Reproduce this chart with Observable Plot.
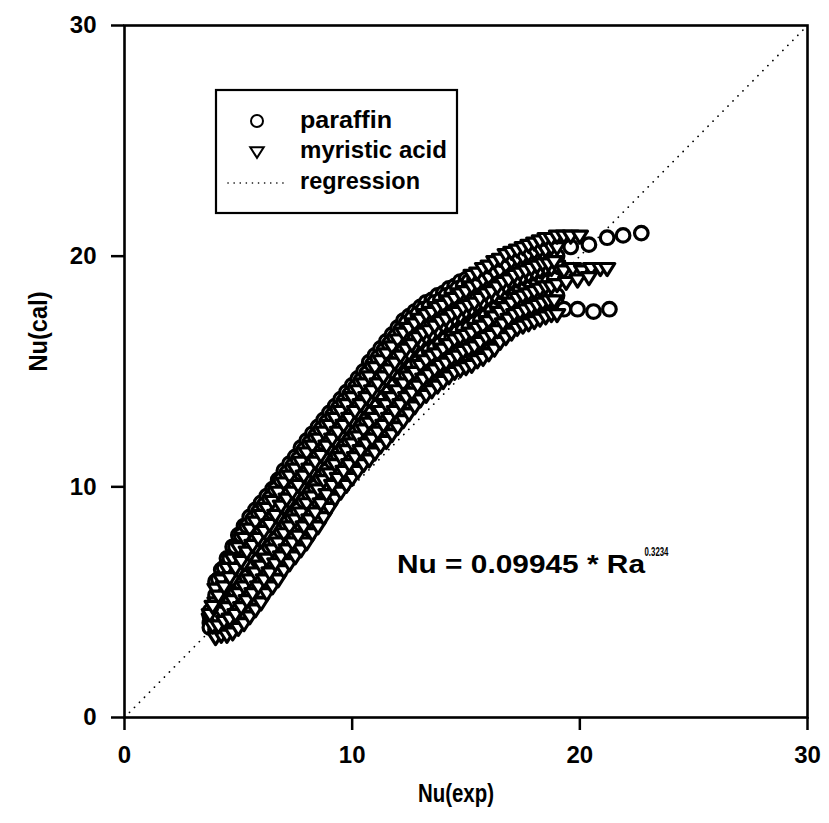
<!DOCTYPE html>
<html><head><meta charset="utf-8">
<script src="https://cdn.jsdelivr.net/npm/d3@7"></script>
<script src="https://cdn.jsdelivr.net/npm/@observablehq/plot@0.6"></script>
<style>
body{margin:0;background:#fff;}
#wrap{position:relative;width:829px;height:823px;}
#legend{position:absolute;left:0;top:0;pointer-events:none;}
</style></head><body><div id="wrap"></div>
<script>
// ---- data ----
// Nu(exp) positions shared by the track arrays below
const nuExpGrid = [3.75,4,4.25,4.5,4.75,5,5.25,5.5,5.75,6,
  6.25,6.5,6.75,7,7.25,7.5,7.75,8,8.25,8.5,
  8.75,9,9.25,9.5,9.75,10,10.25,10.5,10.75,11,
  11.25,11.5,11.75,12,12.25,12.5,12.75,13,13.25,13.5,
  13.75,14,14.25,14.5,14.75,15,15.25,15.5,15.75,16,
  16.25,16.5,16.75,17,17.25,17.5,17.75,18,18.25,18.5,
  18.75,19];
const nuExpGridB = [3.875,4.125,4.375,4.625,4.875,5.125,5.375,5.625,5.875,6.125,
  6.375,6.625,6.875,7.125,7.375,7.625,7.875,8.125,8.375,8.625,
  8.875,9.125,9.375,9.625,9.875,10.125,10.375,10.625,10.875,11.125,
  11.375,11.625,11.875,12.125,12.375,12.625,12.875,13.125,13.375,13.625,
  13.875,14.125,14.375,14.625,14.875,15.125,15.375,15.625,15.875,16.125,
  16.375,16.625,16.875,17.125,17.375,17.625,17.875,18.125,18.375,18.625,
  18.875];

// paraffin Nu(cal) tracks (aligned with nuExpGrid, null = no point)
const paraffinTrack1 = [null,5.9,6.4,6.9,7.4,7.9,8.3,8.7,9.0,9.3,
  9.6,9.9,10.3,10.7,11.0,11.3,11.7,12.0,12.3,12.6,
  12.9,13.2,13.5,13.8,14.1,14.4,14.7,15.0,15.4,15.7,
  16.0,16.3,16.6,16.9,17.2,17.4,17.6,17.8,18.0,18.1,
  18.3,18.4,18.6,18.7,18.9,19.0,null,null,null,null,
  null,null,null,null,null,null,null,null,null,null,
  null,null];
const paraffinTrack2 = [4.6,5.3,5.7,6.1,6.5,6.9,7.3,7.6,7.9,8.2,
  8.5,8.9,9.2,9.6,9.9,10.2,10.6,10.9,11.2,11.5,
  11.9,12.2,12.5,12.8,13.1,13.4,13.7,14.0,14.3,14.6,
  14.9,15.2,15.5,15.8,16.1,16.4,16.6,16.8,17.0,17.1,
  17.3,17.5,17.6,17.8,17.9,18.1,18.2,18.3,18.5,18.7,
  18.8,19.0,19.2,19.3,19.5,19.6,19.7,19.8,19.9,19.9,
  20.0,20.0];
const paraffinTrack3 = [4.4,4.7,5.0,5.3,5.6,5.9,6.2,6.6,6.9,7.2,
  7.5,7.8,8.2,8.5,8.8,9.1,9.5,9.8,10.1,10.5,
  10.8,11.2,11.5,11.8,12.1,12.4,12.7,13.0,13.3,13.6,
  13.9,14.2,14.5,14.8,15.1,15.3,15.6,15.8,16.0,16.2,
  16.3,16.5,16.7,16.8,17.0,17.1,17.2,17.4,17.5,17.7,
  17.9,18.1,18.3,18.5,18.6,18.7,18.8,18.9,19.0,19.1,
  19.1,19.2];
const paraffinTrack4 = [4.1,4.1,4.3,4.4,4.6,4.9,5.2,5.5,5.8,6.1,
  6.4,6.8,7.1,7.4,7.7,8.0,8.4,8.7,9.0,9.4,
  9.8,10.1,10.5,10.8,11.1,11.4,11.7,12.0,12.2,12.5,
  12.8,13.1,13.4,13.7,14.0,14.3,14.5,14.8,15.0,15.2,
  15.4,15.6,15.7,15.9,16.0,16.2,16.3,16.4,16.6,16.8,
  16.9,17.2,17.4,17.6,17.8,17.9,18.0,18.1,18.2,18.2,
  18.3,18.3];
const paraffinTrack5 = [3.9,3.8,3.9,4.0,4.2,4.4,4.6,4.9,5.2,5.5,
  5.9,6.2,6.5,6.9,7.2,7.5,7.8,8.2,8.5,8.8,
  9.2,9.6,10.0,10.3,10.6,10.9,11.2,11.5,11.7,12.0,
  12.3,12.5,12.8,13.1,13.4,13.7,14.0,14.3,14.5,14.7,
  14.9,15.1,15.3,15.4,15.6,15.7,15.8,15.9,16.1,16.3,
  16.5,16.7,16.9,17.1,17.3,17.4,17.5,17.6,17.7,17.8,
  17.9,17.9];
// paraffin Nu(cal) tracks aligned with nuExpGridB
const paraffinTrack6 = [4.5,4.7,4.9,5.2,5.5,5.8,6.1,6.5,6.8,7.1,
  7.4,7.7,8.1,8.4,8.7,9.0,9.4,9.7,10.0,10.4,
  10.7,11.1,11.4,11.7,12.0,12.3,12.6,12.9,13.2,13.5,
  13.8,14.1,14.4,14.7,14.9,15.2,15.4,15.7,15.9,16.0,
  16.2,16.4,16.5,16.7,16.8,16.9,17.1,17.2,17.4,17.6,
  17.8,18.0,18.2,18.3,18.5,18.6,18.7,18.8,18.9,18.9,
  19.0];
const paraffinTrack7 = [null,6.0,6.5,6.9,7.4,7.9,8.3,8.6,8.9,9.2,
  9.5,9.9,10.3,10.6,10.9,11.2,11.6,11.9,12.2,12.5,
  12.8,13.1,13.4,13.7,14.0,14.3,14.6,14.9,15.3,15.6,
  15.9,16.2,16.5,16.8,17.1,17.3,17.5,17.7,17.8,18.0,
  18.1,18.3,18.4,18.6,18.7,18.9,19.0,19.2,19.3,19.5,
  19.6,19.8,19.9,20.1,20.2,20.3,20.4,20.5,20.5,20.6,
  20.6];
// paraffin end points beyond the grids: [Nu(exp), Nu(cal)]
const paraffinUpperEnd = [[19.6,20.4],[20.4,20.5],[21.2,20.8],[21.9,20.9],[22.7,21.0]];
const paraffinLowerEnd = [[19.3,17.7],[19.9,17.7],[20.6,17.6],[21.3,17.7]];

// myristic acid Nu(cal) tracks (aligned with nuExpGrid)
const myristicTrack1 = [null,5.6,6.0,6.5,6.9,7.4,7.8,8.2,8.5,8.8,
  9.1,9.4,9.8,10.2,10.5,10.8,11.1,11.5,11.8,12.1,
  12.4,12.7,13.0,13.3,13.6,13.9,14.2,14.5,14.8,15.2,
  15.5,15.8,16.1,16.4,16.7,16.9,17.1,17.3,17.5,17.6,
  17.8,17.9,18.1,18.2,18.4,18.5,18.7,18.8,19.0,19.1,
  19.3,19.4,19.6,19.8,19.9,20.0,20.1,20.2,20.3,20.3,
  20.4,20.4];
const myristicTrack2 = [4.5,5.0,5.3,5.7,6.0,6.4,6.7,7.1,7.4,7.7,
  8.0,8.3,8.7,9.1,9.4,9.7,10.0,10.4,10.7,11.0,
  11.3,11.7,12.0,12.3,12.6,12.9,13.2,13.5,13.8,14.1,
  14.4,14.7,15.0,15.3,15.6,15.8,16.1,16.3,16.5,16.6,
  16.8,17.0,17.1,17.3,17.4,17.6,17.7,17.9,18.0,18.2,
  18.3,18.5,18.7,18.9,19.0,19.1,19.2,19.3,19.4,19.5,
  19.5,19.6];
const myristicTrack3 = [4.3,4.4,4.6,4.8,5.1,5.4,5.7,6.0,6.3,6.6,
  6.9,7.3,7.6,8.0,8.3,8.6,8.9,9.3,9.6,9.9,
  10.3,10.6,11.0,11.3,11.6,11.9,12.2,12.5,12.8,13.0,
  13.3,13.6,13.9,14.2,14.5,14.8,15.0,15.3,15.5,15.7,
  15.8,16.0,16.2,16.4,16.5,16.6,16.7,16.9,17.0,17.2,
  17.4,17.6,17.8,18.0,18.2,18.3,18.4,18.5,18.6,18.7,
  18.7,18.8];
const myristicTrack4 = [null,3.5,3.6,3.6,3.7,3.9,4.1,4.4,4.7,5.0,
  5.4,5.7,6.0,6.4,6.7,7.0,7.3,7.6,8.0,8.3,
  8.7,9.1,9.5,9.8,10.1,10.4,10.7,11.0,11.2,11.5,
  11.8,12.0,12.3,12.6,12.9,13.2,13.5,13.8,14.0,14.2,
  14.4,14.6,14.8,15.0,15.1,15.2,15.3,15.5,15.6,15.8,
  16.0,16.3,16.5,16.7,16.9,17.0,17.1,17.2,17.3,17.4,
  17.5,17.5];
// myristic acid Nu(cal) tracks aligned with nuExpGridB
const myristicTrack5 = [4.0,4.0,4.2,4.3,4.5,4.8,5.1,5.4,5.7,6.0,
  6.3,6.7,7.0,7.3,7.6,7.9,8.3,8.6,8.9,9.3,
  9.7,10.1,10.4,10.7,11.0,11.3,11.6,11.9,12.1,12.4,
  12.7,13.0,13.3,13.6,13.9,14.1,14.4,14.7,14.9,15.1,
  15.3,15.4,15.6,15.7,15.9,16.0,16.1,16.3,16.5,16.6,
  16.8,17.1,17.3,17.5,17.6,17.7,17.8,17.9,18.0,18.1,
  18.1];
const myristicTrack6 = [4.85,5.3,5.7,6.1,6.5,6.8,7.2,7.5,7.8,8.1,
  8.4,8.8,9.2,9.5,9.8,10.1,10.5,10.8,11.1,11.4,
  11.8,12.1,12.4,12.7,13.0,13.3,13.6,13.9,14.2,14.5,
  14.8,15.1,15.4,15.7,16.0,16.2,16.5,16.7,16.8,17.0,
  17.2,17.3,17.5,17.6,17.8,17.9,18.0,18.2,18.4,18.5,
  18.7,18.9,19.0,19.2,19.3,19.4,19.5,19.6,19.7,19.7,
  19.8];
// myristic acid points off the grids: [Nu(exp), Nu(cal)]
const myristicUpperEdge = [[15.25,19.2],[15.5,19.3],[15.75,19.5],[16,19.6],[16.25,19.8],[16.5,19.9],[16.75,20.1],[17,20.2],[17.25,20.3],[17.5,20.4],[17.75,20.5],[18,20.6],[18.25,20.7],[18.5,20.8],[18.75,20.8],[19,20.9],[19.3,20.9],[19.6,20.9],[20.0,20.9]];
const myristicMiddleEnd = [[19.3,19.4],[19.7,19.5],[20.1,19.4],[20.5,19.5],[20.9,19.5],[21.2,19.5],[19.4,18.9],[19.9,19.0],[20.4,19.1]];

const regressionX = [0, 30];
const regressionY = [0, 30];
const xTicks = [0, 10, 20, 30];
const yTicks = [0, 10, 20, 30];
const seriesNames = ["paraffin", "myristic acid", "regression"];
const xLabel = "Nu(exp)";
const yLabel = "Nu(cal)";
const equation = "Nu = 0.09945 * Ra";
const exponent = "0.3234";

// ---- build tables ----
const onGrid = grid => ys => grid.map((x, i) => ({x, y: ys[i]})).filter(d => d.y != null);
const fromPairs = ps => ps.map(([x, y]) => ({x, y}));
const paraffin = [
  ...[paraffinTrack1, paraffinTrack2, paraffinTrack3, paraffinTrack4, paraffinTrack5].flatMap(onGrid(nuExpGrid)),
  ...[paraffinTrack6, paraffinTrack7].flatMap(onGrid(nuExpGridB)),
  ...fromPairs(paraffinUpperEnd), ...fromPairs(paraffinLowerEnd)
];
const myristic = [
  ...[myristicTrack4, myristicTrack3, myristicTrack2, myristicTrack1].flatMap(onGrid(nuExpGrid)),
  ...[myristicTrack5, myristicTrack6].flatMap(onGrid(nuExpGridB)),
  ...fromPairs(myristicUpperEdge), ...fromPairs(myristicMiddleEnd)
];
const regression = regressionX.map((x, i) => ({x, y: regressionY[i]}));

const triangleDown = {
  draw(ctx, size) {
    const r = Math.sqrt(size / Math.PI);
    ctx.moveTo(-1.12 * r, -0.62 * r);
    ctx.lineTo(1.12 * r, -0.62 * r);
    ctx.lineTo(0, 1.15 * r);
    ctx.closePath();
  }
};

const FONT = "'Liberation Sans', Arial, Helvetica, sans-serif";

const chart = Plot.plot({
  width: 829, height: 823,
  marginLeft: 124, marginRight: 22, marginTop: 25, marginBottom: 106,
  x: {domain: [0, 30]},
  y: {domain: [0, 30]},
  style: {fontFamily: FONT, fontSize: "24px", fontWeight: "bold", color: "#000", background: "#fff", overflow: "visible"},
  marks: [
    Plot.line(regression, {x: "x", y: "y", stroke: "#000", strokeWidth: 1.7, strokeDasharray: "0.1,7", strokeLinecap: "round"}),
    Plot.dot(paraffin, {x: "x", y: "y", r: 6.8, symbol: "circle", fill: "#fff", stroke: "#000", strokeWidth: 3.2}),
    Plot.dot(myristic, {x: "x", y: "y", r: 6.8, symbol: triangleDown, fill: "#fff", stroke: "#000", strokeWidth: 3.2, strokeLinejoin: "round"}),
    Plot.frame({stroke: "#000", strokeWidth: 2.6}),
    Plot.axisX({ticks: xTicks, tickSize: 13, tickPadding: 15, label: null, strokeWidth: 2.5, tickFormat: d => String(d)}),
    Plot.axisY({ticks: yTicks, tickSize: 13, tickPadding: 15, label: null, strokeWidth: 2.5, tickFormat: d => String(d)}),
    Plot.text([xLabel], {text: d => d, frameAnchor: "bottom", dx: -10, dy: 84, fontSize: 26}),
    Plot.text([yLabel], {text: d => d, frameAnchor: "left", dx: -86, rotate: -90, fontSize: 26}),
    Plot.text([equation], {text: d => d, x: 11.97, y: 6.6, textAnchor: "start", fontSize: 25}),
    Plot.text([exponent], {text: d => d, x: 22.84, y: 7.2, textAnchor: "start", fontSize: 13, fill: "#000"})
  ]
});

const wrap = document.getElementById("wrap");
wrap.appendChild(chart);

// match the reference's text widths
const textWidths = new Map([[equation, 248], [exponent, 24], [xLabel, 76], [yLabel, 80]]);
d3.select(chart).selectAll("text").each(function() {
  const w = textWidths.get(this.textContent);
  if (w) d3.select(this).attr("textLength", w).attr("lengthAdjust", "spacingAndGlyphs");
});

// ---- legend ----
const lg = d3.select(wrap).append("svg").attr("id", "legend")
  .attr("width", 829).attr("height", 823)
  .style("font-family", FONT).style("font-weight", "bold").style("font-size", "23px");
lg.append("rect").attr("x", 216).attr("y", 90).attr("width", 241).attr("height", 123)
  .attr("fill", "#fff").attr("stroke", "#000").attr("stroke-width", 2.2);
lg.append("circle").attr("cx", 257).attr("cy", 121).attr("r", 6).attr("fill", "#fff").attr("stroke", "#000").attr("stroke-width", 2);
lg.append("path").attr("transform", "translate(257,151)")
  .attr("d", d3.symbol().type(triangleDown).size(Math.PI * 36)())
  .attr("fill", "#fff").attr("stroke", "#000").attr("stroke-width", 2);
lg.append("line").attr("x1", 228).attr("x2", 289).attr("y1", 183).attr("y2", 183)
  .attr("stroke", "#000").attr("stroke-width", 1.6).attr("stroke-dasharray", "0.1,6").attr("stroke-linecap", "round");
const legendWidths = [92, 147, 120];
const legendRows = [121, 151, 182];
seriesNames.forEach((name, i) => {
  lg.append("text").attr("x", 300).attr("y", legendRows[i]).attr("dy", "0.32em")
    .attr("textLength", legendWidths[i]).attr("lengthAdjust", "spacingAndGlyphs").text(name);
});
</script>
</body></html>
